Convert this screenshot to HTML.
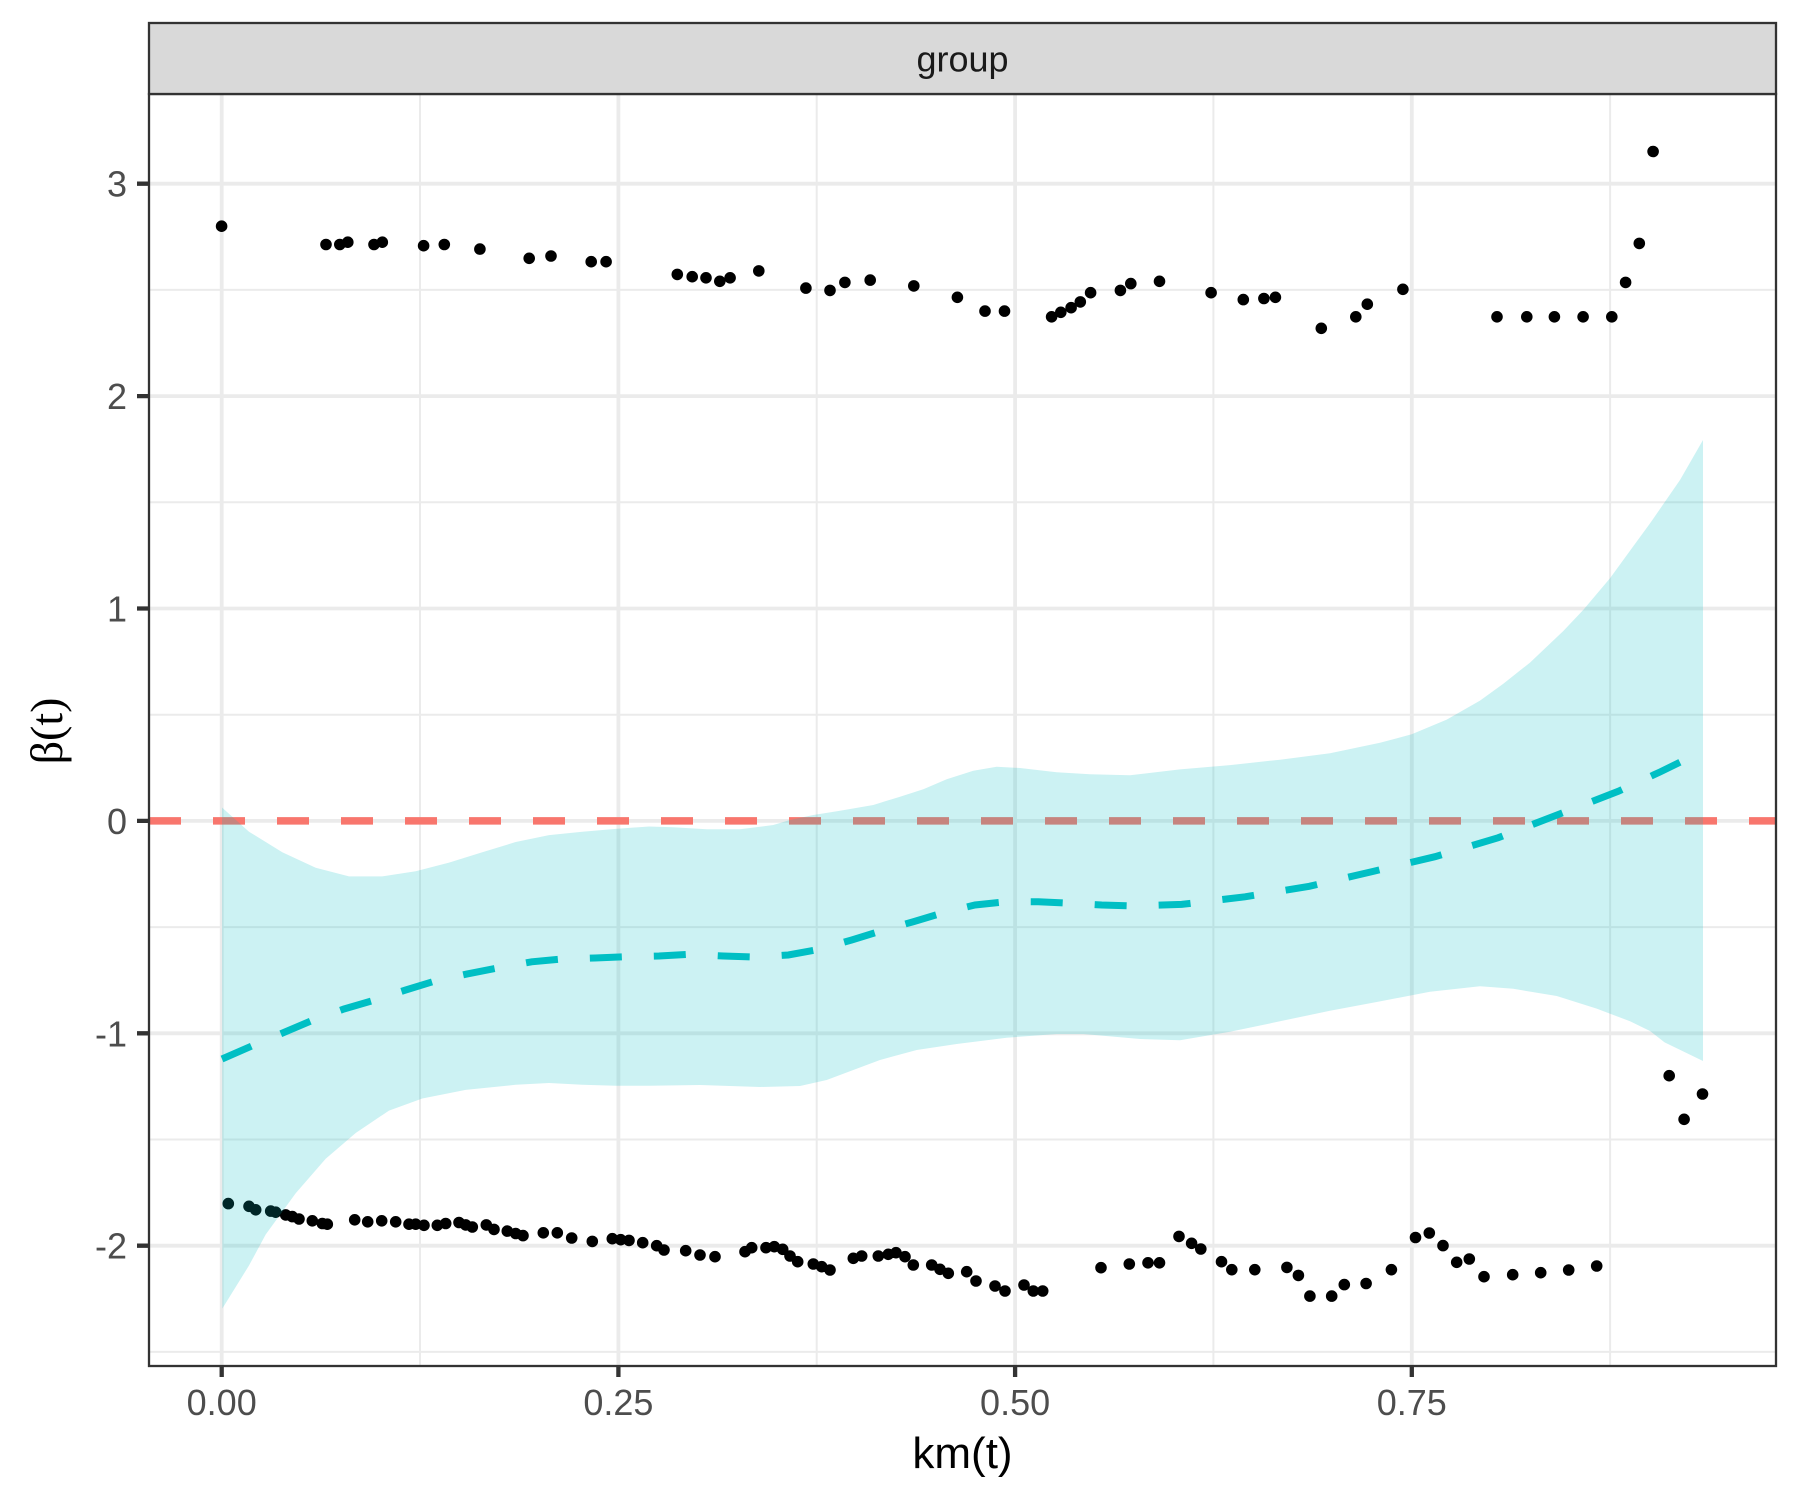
<!DOCTYPE html>
<html>
<head>
<meta charset="utf-8">
<style>
html, body { margin: 0; padding: 0; background: #ffffff; }
svg { display: block; }
</style>
</head>
<body>
<svg width="1800" height="1500" viewBox="0 0 1800 1500" xmlns="http://www.w3.org/2000/svg">
<rect x="0" y="0" width="1800" height="1500" fill="#ffffff"/>
<path fill="none" stroke="#EBEBEB" stroke-width="2" d="M149 289.9H1776M149 502.3H1776M149 714.7H1776M149 927.1H1776M149 1139.5H1776M149 1351.9H1776M420 94V1366M816.7 94V1366M1213.4 94V1366M1610.1 94V1366"/>
<path fill="none" stroke="#EBEBEB" stroke-width="3.8" d="M149 183.7H1776M149 396.1H1776M149 608.5H1776M149 820.9H1776M149 1033.3H1776M149 1245.7H1776M221.7 94V1366M618.4 94V1366M1015.1 94V1366M1411.8 94V1366"/>
<line x1="149" x2="1776" y1="820.9" y2="820.9" stroke="#F8766D" stroke-width="7.5" stroke-dasharray="32 32"/>
<path fill="none" stroke="#000000" stroke-width="11.6" stroke-linecap="round" d="
M221.6 226.2h0M326 244.5h0M339.8 244.5h0M347.8 242.2h0M374 244.5h0M382.3 242.2h0M423.6 245.7h0M444.3 244.5h0M479.9 249.1h0
M529.2 258.3h0M551 256h0M591.2 261.7h0M606.1 261.7h0M677.3 274.4h0M692.2 276.7h0M706 277.8h0M719.8 281.3h0M730.1 277.8h0
M758.8 270.9h0M805.9 288.1h0M830 290.4h0M844.9 282.4h0M870.2 280.1h0M913.8 285.9h0M957.4 297.3h0M985 311.1h0M1004.5 311.1h0
M1051.6 316.8h0M1060.8 312.3h0M1071.1 307.7h0M1080.3 301.9h0M1090.6 292.7h0M1120.4 290.4h0M1130.8 283.6h0M1159.5 281.3h0
M1211.1 292.7h0M1243.3 299.6h0M1263.9 298.5h0M1275.4 297.3h0M1321.3 328.3h0M1355.8 316.8h0M1367.3 304.2h0M1402.9 289.3h0
M1497 316.8h0M1526.8 316.8h0M1554.4 316.8h0M1583.1 316.8h0M1611.8 316.8h0M1625.6 282.4h0M1639.3 243.4h0M1653.1 151.5h0
M228.3 1203.6h0M249 1206.3h0M255.7 1209.8h0M270.7 1211.1h0M275.7 1212.2h0M285.7 1214.9h0M292.3 1216.6h0M299 1219h0
M312.3 1220.8h0M322.3 1223.5h0M327.3 1224.2h0M354.7 1219.8h0M367.7 1221.8h0M381.7 1220.8h0M395.7 1221.8h0M409 1224.2h0
M415.7 1224.2h0M424 1225.3h0M437.3 1225.3h0M445.7 1223.5h0M459 1222.5h0M465.7 1224.9h0M472.3 1227h0M486.3 1224.9h0
M494 1229.4h0M507.3 1231.1h0M515.7 1233.5h0M523 1235.6h0M543.3 1232.8h0M557.3 1232.8h0M571.7 1238h0M592.3 1241.4h0
M612.3 1238.7h0M620.7 1239.7h0M629 1240.4h0M642.7 1242.7h0M656.7 1245.7h0M664 1250h0M685.7 1250.7h0M700 1255h0M715 1256.7h0
M745 1251.7h0M751.7 1247.7h0M766 1247.7h0M774.3 1246.7h0M782.7 1249.3h0M790 1256h0M797.7 1261.7h0M813.3 1264h0M821.7 1266.7h0
M830 1270h0M853.3 1258.3h0M861.7 1256h0M878.3 1256h0M888.3 1254.3h0M896 1252.7h0M905 1256.7h0M913.3 1265h0M931.7 1265h0
M940 1269.3h0M948.3 1273.3h0M966.7 1271.7h0M976 1281h0M995 1286h0M1005 1291h0M1024 1285h0M1033.3 1291h0M1042.7 1291h0
M1101 1267.7h0M1129.3 1264h0M1148 1262.8h0M1159.5 1262.8h0M1179 1236.4h0M1191.6 1243.3h0M1200.8 1249h0M1221.5 1261.7h0
M1231.8 1269.7h0M1254.8 1269.7h0M1286.9 1267.4h0M1298.4 1275.4h0M1309.9 1296.1h0M1331.7 1296.1h0M1344.3 1284.6h0M1366.1 1283.5h0
M1391.4 1269.7h0M1415.5 1237.5h0M1429.3 1233h0M1443 1245.6h0M1456.7 1262.3h0M1469.3 1259h0M1484 1276.7h0M1512.7 1274.7h0
M1540.7 1272.7h0M1568.7 1270h0M1596.7 1266h0M1669.2 1075.7h0M1684.1 1119.3h0M1702.5 1094h0"/>
<polygon fill="#00BFC4" fill-opacity="0.2" points="222,807.5 249,831.7 282.3,852.3 315.7,867.8 349,876.4 382.3,876.4 415.7,871.3 449,862.6 482.3,852.3 515.7,842 549,835.1 582.3,831.7 615.7,828.9 649,826.5 673.3,827.3 706.7,829.3 740,829.3 773.3,825 790,820 813.3,815 840,810.7 873.3,805 900,796.7 923.3,789.3 946.7,779.3 973.3,770.7 996.7,766.7 1020,768 1056.7,772.3 1090,774.3 1130,775.3 1180,769.4 1230,765.1 1280,759.7 1330,753.3 1380,742.8 1411.7,734.3 1446.7,719.6 1480,700.6 1503.3,683.7 1530,662.6 1563.3,631 1583.3,609.9 1610,578.2 1630,550.8 1650,523.4 1680,480 1703,440 1703,1061 1664.6,1042.4 1650,1031 1630,1021.3 1596.7,1008.6 1556.7,996 1513.3,988.8 1480,986.2 1430,991.7 1380,1001.4 1330,1010.7 1280,1021.3 1230,1031.8 1180,1040.3 1140,1039 1083.3,1034 1056.7,1034 1006.7,1037.7 956.7,1044 916.7,1050 880,1060 853.3,1070 826.7,1080 800,1086 760,1087 700,1085 649,1085.8 615.7,1085.8 582.3,1084.8 549,1083 515.7,1084.8 465.7,1089.9 422.3,1098.5 389,1110.6 355.7,1133 325.7,1158.8 295.7,1193.2 265.7,1234.5 249,1265.5 222.3,1308.6"/>
<polyline fill="none" stroke="#00BFC4" stroke-width="7" stroke-dasharray="32 32" points="222,1059 252.3,1045.8 282.3,1033.1 312.3,1020.4 344,1009 375.7,999.7 405.7,990 435.7,980.8 467.3,973.9 499,967.7 531.7,961.8 562.3,959 595,958 627,956.7 659,956 690,954.3 723.3,956 755,957 788.3,955 819.3,949.3 851.7,940 880.7,931 913.3,921.7 943.3,912.7 975,905 1006.7,901.7 1038.3,901.7 1070,903.3 1101.7,905 1134,906 1181.7,904.4 1245,896.8 1309.3,886.3 1372.7,871.5 1435,856.7 1498.3,837.7 1558.3,814.5 1618.3,791.3 1660,772 1703,751"/>
<rect x="149" y="94" width="1627" height="1272" fill="none" stroke="#333333" stroke-width="2.3"/>
<rect x="149" y="23" width="1627" height="71" fill="#D9D9D9" stroke="#333333" stroke-width="2.3"/>
<text x="962.5" y="71.7" text-anchor="middle" font-family="Liberation Sans, Arial, sans-serif" font-size="36" fill="#1A1A1A">group</text>
<path fill="none" stroke="#333333" stroke-width="4.3" d="M137 183.7H149M137 396.1H149M137 608.5H149M137 820.9H149M137 1033.3H149M137 1245.7H149M221.7 1366V1377M618.4 1366V1377M1015.1 1366V1377M1411.8 1366V1377"/>
<g font-family="Liberation Sans, Arial, sans-serif" font-size="36" fill="#4D4D4D" text-anchor="end">
<text x="127" y="196.7">3</text>
<text x="127" y="409.1">2</text>
<text x="127" y="621.5">1</text>
<text x="127" y="833.9">0</text>
<text x="127" y="1046.3">-1</text>
<text x="127" y="1258.7">-2</text>
</g>
<g font-family="Liberation Sans, Arial, sans-serif" font-size="36" fill="#4D4D4D" text-anchor="middle">
<text x="221.7" y="1415">0.00</text>
<text x="618.4" y="1415">0.25</text>
<text x="1015.1" y="1415">0.50</text>
<text x="1411.8" y="1415">0.75</text>
</g>
<text x="962.5" y="1468" text-anchor="middle" font-family="Liberation Sans, Arial, sans-serif" font-size="44" fill="#000000">km(t)</text>
<text transform="translate(62,731) rotate(-90)" text-anchor="middle" font-family="Liberation Serif, Times New Roman, serif" font-size="46" fill="#000000">β(t)</text>
</svg>
</body>
</html>
